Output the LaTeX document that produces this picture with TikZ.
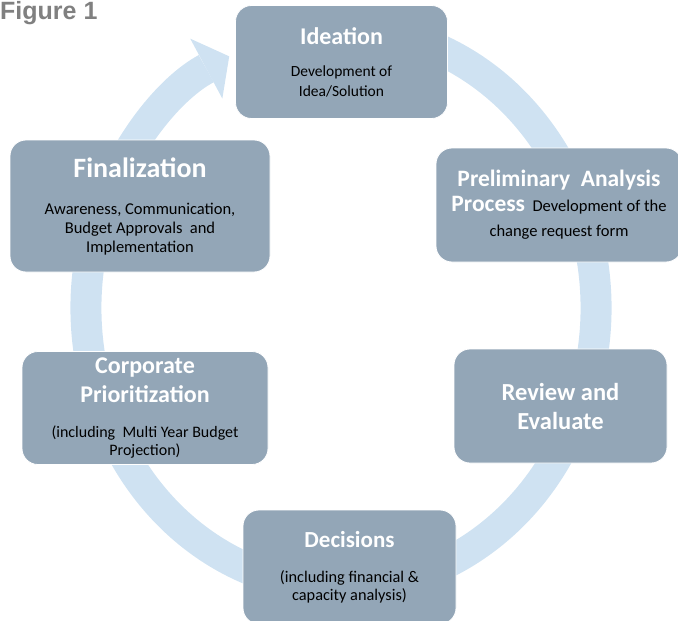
\documentclass[tikz,border=0pt]{standalone}
\usepackage{fontspec}
\setmainfont{Carlito}
\newfontfamily\captionFont{Liberation Sans}
\usetikzlibrary{arrows.meta}

\definecolor{stageFill}{RGB}{147,166,183}
\definecolor{ringBlue}{RGB}{207,226,242}
\definecolor{captionGray}{RGB}{128,128,128}
% white bold heading inside a stage box, #1 = size
\newcommand{\stageTitle}[1]{\fontsize{#1}{#1}\selectfont\bfseries\color{white}}
\newcommand{\descSize}[2]{\fontsize{#1}{#2}\selectfont}

\begin{document}
\begin{tikzpicture}
[x=1pt,y=1pt,
  stageBox/.style={draw=white,line width=0.8pt,fill=stageFill,
    rounded corners=16pt,align=center,inner sep=0pt,font=\descSize{16}{20}},
  ringArrow/.style={line width=31pt,draw=ringBlue,
    -{Triangle[width=68pt,length=26pt,line width=0pt]}}]
\useasboundingbox (0,0) rectangle (678,-621);
\clip (0,0) rectangle (678,-621);

\node[anchor=base west,inner sep=0pt,text=captionGray,
  font=\captionFont\fontsize{25}{30}\selectfont\bfseries] (figCaption)
  at (0,-19.5) {Figure 1};

% the cycle ring, it runs behind the boxes
\draw[ringArrow] (341,-308) ++(70:255 and 280)
  arc[start angle=70,end angle=-244,x radius=255,y radius=280];

\node[stageBox,minimum width=212pt,minimum height=113pt,font=\descSize{15.5}{20}]
  (ideation) at (341.5,-62)
  {{\stageTitle{24}Ideation}\\[12pt]Development of\\Idea/Solution};
\node[stageBox,minimum width=246pt,minimum height=114pt,font=\descSize{16.5}{20}]
  (prelim) at (559,-205)
  {{\stageTitle{23.5}Preliminary\ \ Analysis}\\[5pt]%
   {\stageTitle{23.5}Process}\ \ Development of the\\[5pt]change request form};
\node[stageBox,minimum width=213pt,minimum height=114pt,font=\descSize{16}{20}]
  (review) at (560.5,-406)
  {{\stageTitle{24.5}Review and}\\[9pt]{\stageTitle{24.5}Evaluate}};
\node[stageBox,minimum width=213pt,minimum height=114pt,font=\descSize{16.3}{18}]
  (decisions) at (349.5,-567)
  {{\stageTitle{23}Decisions}\\[17pt](including financial \&\\capacity analysis)};
\node[stageBox,minimum width=246pt,minimum height=113pt,font=\descSize{16}{18}]
  (corporate) at (145,-408)
  {{\stageTitle{24}Corporate}\\[8pt]{\stageTitle{24}Prioritization}\\[17pt]%
   (including\ \ Multi Year Budget\\Projection)};
\node[stageBox,minimum width=260pt,minimum height=132pt,font=\descSize{16.5}{19}]
  (final) at (140,-206)
  {{\stageTitle{28}Finalization}\\[18pt]Awareness, Communication,\\%
   Budget Approvals\ \ and\\Implementation};
\end{tikzpicture}
\end{document}
